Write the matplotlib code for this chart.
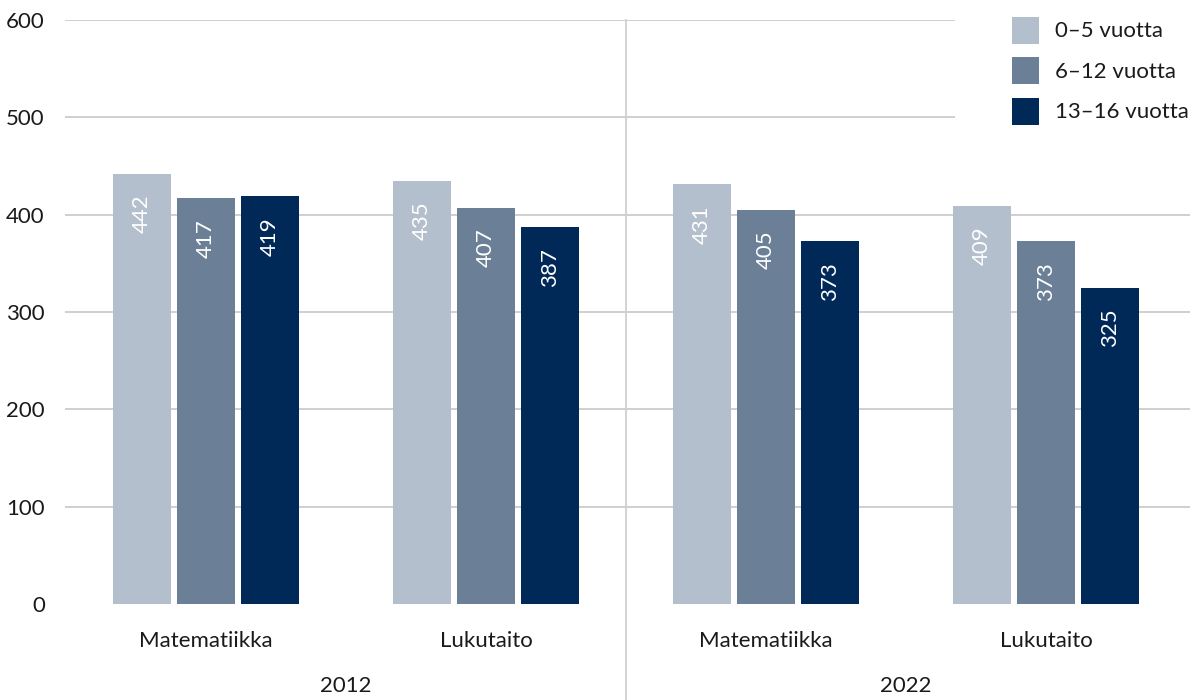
import matplotlib
matplotlib.use("Agg")
import matplotlib.pyplot as plt
from matplotlib.patches import Patch, Rectangle
from matplotlib.lines import Line2D

plt.rcParams['font.family'] = ['Lato', 'DejaVu Sans']

years = ["2012", "2022"]
categories = ["Matematiikka", "Lukutaito", "Matematiikka", "Lukutaito"]
series_names = ["0–5 vuotta", "6–12 vuotta", "13–16 vuotta"]
values_0_5 = [442, 435, 431, 409]
values_6_12 = [417, 407, 405, 373]
values_13_16 = [419, 387, 373, 325]
yticks = [0, 100, 200, 300, 400, 500, 600]

colors = ["#b3bfcc", "#6b7f96", "#002957"]
series = [values_0_5, values_6_12, values_13_16]

fig = plt.figure(figsize=(11.95, 7.0), dpi=100)
ax = fig.add_axes([65/1195, 1 - 604/700, (1190-65)/1195, 584/700])

width = 58/280
step = 64/280
x = list(range(len(categories)))
for i, (vals, col) in enumerate(zip(series, colors)):
    xs = [xi + (i - 1) * step for xi in x]
    ax.bar(xs, vals, width=width, color=col, zorder=3, label=series_names[i])
    for xx, v in zip(xs, vals):
        ax.annotate(str(v), (xx, v), xytext=(0, -15), textcoords='offset points',
                    rotation=90, ha='center', va='top', color='white', fontsize=16, zorder=4)

ax.set_xlim(-141/280, 984/280)
ax.set_ylim(0, 600)
ax.set_yticks(yticks)
ax.set_yticklabels([str(t) for t in yticks], fontsize=16, color='#1a1a1a')
ax.tick_params(axis='y', length=0, pad=14.5)
ax.tick_params(axis='x', length=0)
ax.set_xticks([])
for t in yticks[1:]:
    ax.axhline(t, color='#cccccc', lw=1.3, zorder=1)
for s in ax.spines.values():
    s.set_visible(False)

# category labels
for xi, c in zip(x, categories):
    ax.text(xi, -37/584*600, c, ha='center', va='center', fontsize=16, color='#1a1a1a',
            clip_on=False)
for j, yr in enumerate(years):
    ax.text(2*j + 0.5, -82/584*600, yr, ha='center', va='center', fontsize=16, color='#1a1a1a',
            clip_on=False)

# separator
ax.add_line(Line2D([1.5, 1.5], [1.0, -96/584], transform=ax.get_xaxis_transform(),
                   color='#d0d0d0', lw=1.3, clip_on=False, zorder=2))

# white background behind legend
fig.add_artist(Rectangle((955/1195, 1 - 135/700), 240/1195, 135/700,
                         transform=fig.transFigure, facecolor='white', edgecolor='none', zorder=5))

# legend
handles = [Patch(facecolor=c, edgecolor='none') for c in colors]
leg = fig.legend(handles, series_names, loc='upper left', bbox_to_anchor=(1012/1195, 1 - 18/700),
                 frameon=False, fontsize=16, handlelength=1.2, handleheight=1.2,
                 handletextpad=0.75, labelspacing=0.8, borderpad=0, borderaxespad=0)
leg.set_zorder(6)
for t in leg.get_texts():
    t.set_color('#1a1a1a')
for h in leg.legend_handles:
    h.set_height(27 * 72 / 100)
    h.set_y(h.get_y() - 3 * 72 / 100)

fig.savefig("out.png", dpi=100)
